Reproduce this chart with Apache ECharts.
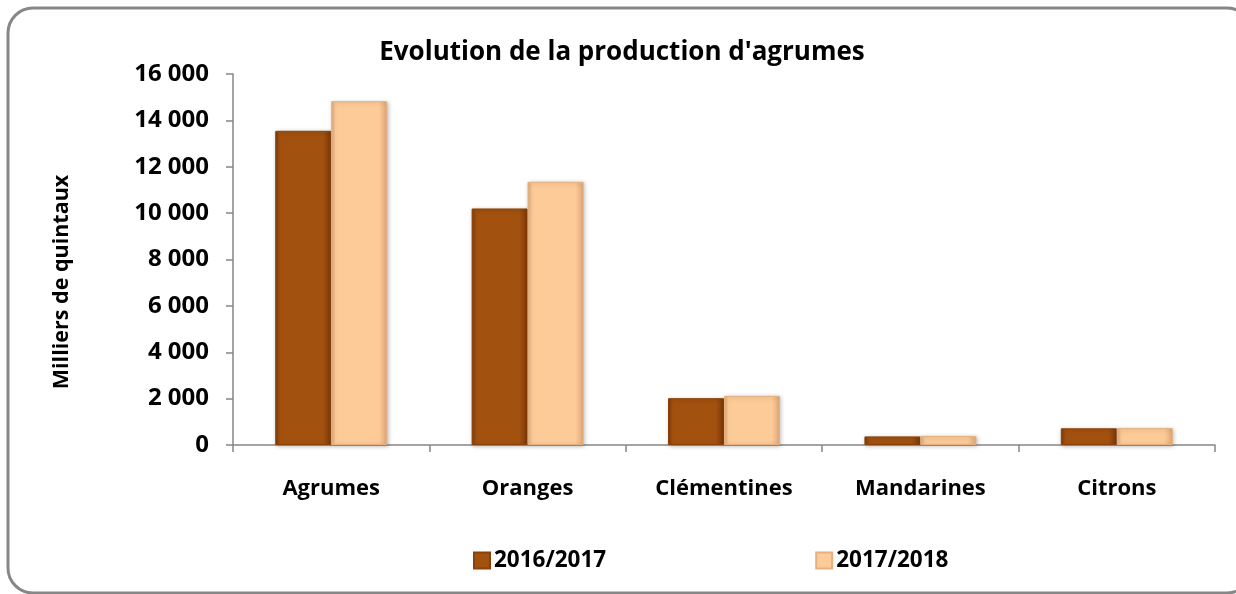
<!DOCTYPE html>
<html>
<head>
<meta charset="utf-8">
<script src="https://cdn.jsdelivr.net/npm/echarts@6/dist/echarts.min.js"></script>
<style>html,body{margin:0;padding:0;background:#fff}#c{width:1236px;height:594px}</style>
</head>
<body>
<div id="c"></div>
<script>
const categories = ['Agrumes', 'Oranges', 'Clémentines', 'Mandarines', 'Citrons'];
const seriesNames = ['2016/2017', '2017/2018'];
const values2016 = [13550, 10200, 2020, 370, 720];
const values2017 = [14830, 11350, 2120, 390, 730];
const yTicks = { min: 0, max: 16000, interval: 2000 };

const FONT = '"Open Sans", "DejaVu Sans", sans-serif';
function fmt(v) { return String(v).replace(/\B(?=(\d{3})+(?!\d))/g, ' '); }
function barGrad(edge, mid) {
  return new echarts.graphic.LinearGradient(0, 0, 1, 0, [
    { offset: 0, color: edge },
    { offset: 0.08, color: mid },
    { offset: 0.85, color: mid },
    { offset: 1, color: edge }
  ]);
}
const chart = echarts.init(document.getElementById('c'), null, { renderer: 'canvas' });
chart.setOption({
  backgroundColor: '#fff',
  animation: false,
  title: {
    text: "Evolution de la production d'agrumes",
    left: 617, top: 35, textAlign: 'center',
    textStyle: { fontFamily: FONT, fontWeight: 'bold', fontSize: 26, color: '#000' }
  },
  legend: {
    left: 468, top: 544, itemGap: 209, itemWidth: 16, itemHeight: 16,
    icon: 'rect',
    textStyle: { fontFamily: FONT, fontWeight: 'bold', fontSize: 22.5, color: '#000', padding: [0, 0, 0, -1] },
    data: seriesNames
  },
  grid: { left: 233, right: 21, top: 74, bottom: 149, containLabel: false },
  xAxis: {
    type: 'category', data: categories,
    axisLine: { lineStyle: { color: '#868686', width: 1.5 } },
    axisTick: { show: true, length: 7, lineStyle: { color: '#868686', width: 1.5 } },
    axisLabel: { margin: 33, fontFamily: FONT, fontWeight: 'bold', fontSize: 22, color: '#000' }
  },
  yAxis: {
    type: 'value', min: yTicks.min, max: yTicks.max, interval: yTicks.interval,
    splitLine: { show: false },
    axisLine: { show: true, lineStyle: { color: '#868686', width: 1.5 } },
    axisTick: { show: true, length: 7, lineStyle: { color: '#868686', width: 1.5 } },
    axisLabel: { margin: 24, fontFamily: FONT, fontWeight: 'bold', fontSize: 24, color: '#000', formatter: fmt }
  },
  graphic: [
    {
      type: 'rect', silent: true,
      shape: { x: 8, y: 8, width: 1244, height: 585, r: 25 },
      style: { fill: 'none', stroke: '#878787', lineWidth: 3 }
    },
    {
      type: 'text', silent: true, x: 62, y: 282, rotation: Math.PI / 2,
      style: { text: 'Milliers de quintaux', fontFamily: FONT, fontWeight: 'bold', fontSize: 21.5, fill: '#000', align: 'center', verticalAlign: 'middle' }
    }
  ],
  series: [
    {
      name: seriesNames[0], type: 'bar', data: values2016,
      barGap: '0%', barCategoryGap: '43%',
      itemStyle: {
        color: barGrad('#7E3A08', '#A3510F'),
        borderColor: '#8A4209', borderWidth: 1,
        shadowColor: 'rgba(0,0,0,0.25)', shadowBlur: 4, shadowOffsetX: 1, shadowOffsetY: 1
      }
    },
    {
      name: seriesNames[1], type: 'bar', data: values2017,
      itemStyle: {
        color: barGrad('#E2A877', '#FDCB98'),
        borderColor: '#E6B07F', borderWidth: 1,
        shadowColor: 'rgba(0,0,0,0.25)', shadowBlur: 4, shadowOffsetX: 1, shadowOffsetY: 1
      }
    }
  ]
});
</script>
</body>
</html>
